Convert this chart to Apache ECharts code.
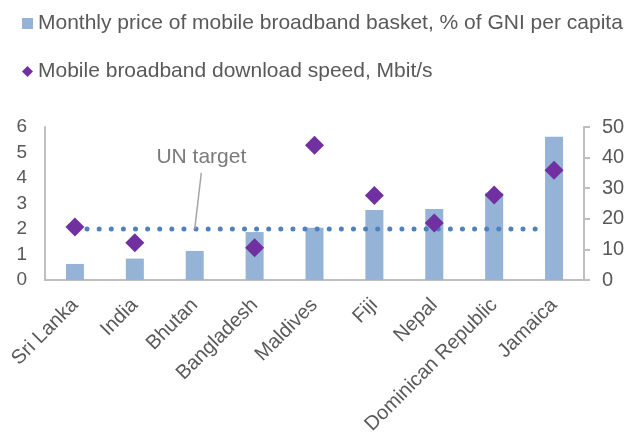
<!DOCTYPE html>
<html>
<head>
<meta charset="utf-8">
<script src="https://cdn.jsdelivr.net/npm/echarts@6/dist/echarts.min.js"></script>
<style>
  html, body { margin: 0; padding: 0; background: #fff; }
  #chart { width: 631px; height: 439px; }
</style>
</head>
<body>
<div id="chart"></div>
<script>
// Countries along the category axis
const countries = ['Sri Lanka', 'India', 'Bhutan', 'Bangladesh', 'Maldives', 'Fiji', 'Nepal', 'Dominican Republic', 'Jamaica'];
// Monthly price of mobile broadband basket, % of GNI per capita (left axis)
const pricePctGni = [0.63, 0.84, 1.14, 1.88, 2.05, 2.75, 2.78, 3.42, 5.62];
// Mobile broadband download speed, Mbit/s (right axis); Bhutan has no value
const speedMbit = [17.3, 12.2, null, 10.5, 44.0, 27.6, 18.6, 27.8, 35.9];
// UN affordability target, % of GNI per capita, spanning position range on the category scale
const unTarget = 2;
const unTargetSpan = [0.5, 8.3];
// Callout for the target line: anchor on the line, leader top, text position
const calloutLeader = [[2.5, 2], [2.61, 4.2]];
const calloutText = [2.61, 4.8];

const leftTicks = [0, 1, 2, 3, 4, 5, 6];
const rightTicks = [0, 10, 20, 30, 40, 50];

const txt = '#595959';
const font = 'Liberation Sans, Arial, sans-serif';

const chart = echarts.init(document.getElementById('chart'));
chart.setOption({
  animation: false,
  backgroundColor: '#ffffff',
  textStyle: { fontFamily: font, color: txt },
  legend: {
    orient: 'vertical',
    left: 17,
    top: 8,
    padding: 5,
    itemGap: 27,
    itemWidth: 11,
    itemHeight: 11,
    textStyle: { fontSize: 21, color: txt, fontFamily: font },
    data: [
      { name: 'Monthly price of mobile broadband basket, % of GNI per capita', icon: 'rect' },
      { name: 'Mobile broadband download speed, Mbit/s', icon: 'diamond' }
    ],
    selectedMode: false
  },
  grid: { left: 45, right: 47, top: 127, bottom: 159, containLabel: false },
  xAxis: [
    {
      type: 'category',
      data: countries,
      axisLine: { lineStyle: { color: '#bfbfbf', width: 2 } },
      axisTick: { show: false },
      axisLabel: { rotate: 45, fontSize: 20, color: txt, margin: 22, interval: 0, fontFamily: font }
    },
    {
      type: 'value',
      min: 0,
      max: 9,
      show: false
    }
  ],
  yAxis: [
    {
      type: 'value',
      min: leftTicks[0],
      max: leftTicks[leftTicks.length - 1],
      interval: 1,
      splitLine: { show: false },
      axisLine: { show: true, lineStyle: { color: '#bfbfbf', width: 2 } },
      axisTick: { show: false },
      axisLabel: { fontSize: 19, color: txt, margin: 18, fontFamily: font }
    },
    {
      type: 'value',
      position: 'right',
      min: rightTicks[0],
      max: rightTicks[rightTicks.length - 1],
      interval: 10,
      splitLine: { show: false },
      axisLine: { show: true, lineStyle: { color: '#bfbfbf', width: 2 } },
      axisTick: { show: true, inside: false, length: 6, lineStyle: { color: '#bfbfbf', width: 2 } },
      axisLabel: { fontSize: 20, color: txt, margin: 18, fontFamily: font }
    }
  ],
  series: [
    {
      name: 'Monthly price of mobile broadband basket, % of GNI per capita',
      type: 'bar',
      xAxisIndex: 0,
      yAxisIndex: 0,
      data: pricePctGni,
      barWidth: 18,
      itemStyle: { color: '#95b3d7' },
      z: 2
    },
    {
      name: 'UN target',
      type: 'line',
      xAxisIndex: 1,
      yAxisIndex: 0,
      data: unTargetSpan.map(x => [x, unTarget]),
      symbol: 'none',
      lineStyle: { color: '#4f81bd', width: 5, type: [0.01, 12.1], cap: 'round' },
      z: 3
    },
    {
      name: 'callout leader',
      type: 'line',
      xAxisIndex: 1,
      yAxisIndex: 0,
      data: calloutLeader,
      symbol: 'none',
      lineStyle: { color: '#a6a6a6', width: 1.5 },
      z: 3
    },
    {
      name: 'callout text',
      type: 'scatter',
      xAxisIndex: 1,
      yAxisIndex: 0,
      data: [calloutText],
      symbolSize: 0,
      label: { show: true, position: 'inside', formatter: 'UN target', fontSize: 21, color: txt, fontFamily: font },
      z: 3
    },
    {
      name: 'Mobile broadband download speed, Mbit/s',
      type: 'scatter',
      xAxisIndex: 0,
      yAxisIndex: 1,
      data: speedMbit,
      symbol: 'diamond',
      symbolSize: [19, 19],
      itemStyle: { color: '#7030a0', opacity: 1 },
      z: 4
    }
  ]
});
</script>
</body>
</html>
